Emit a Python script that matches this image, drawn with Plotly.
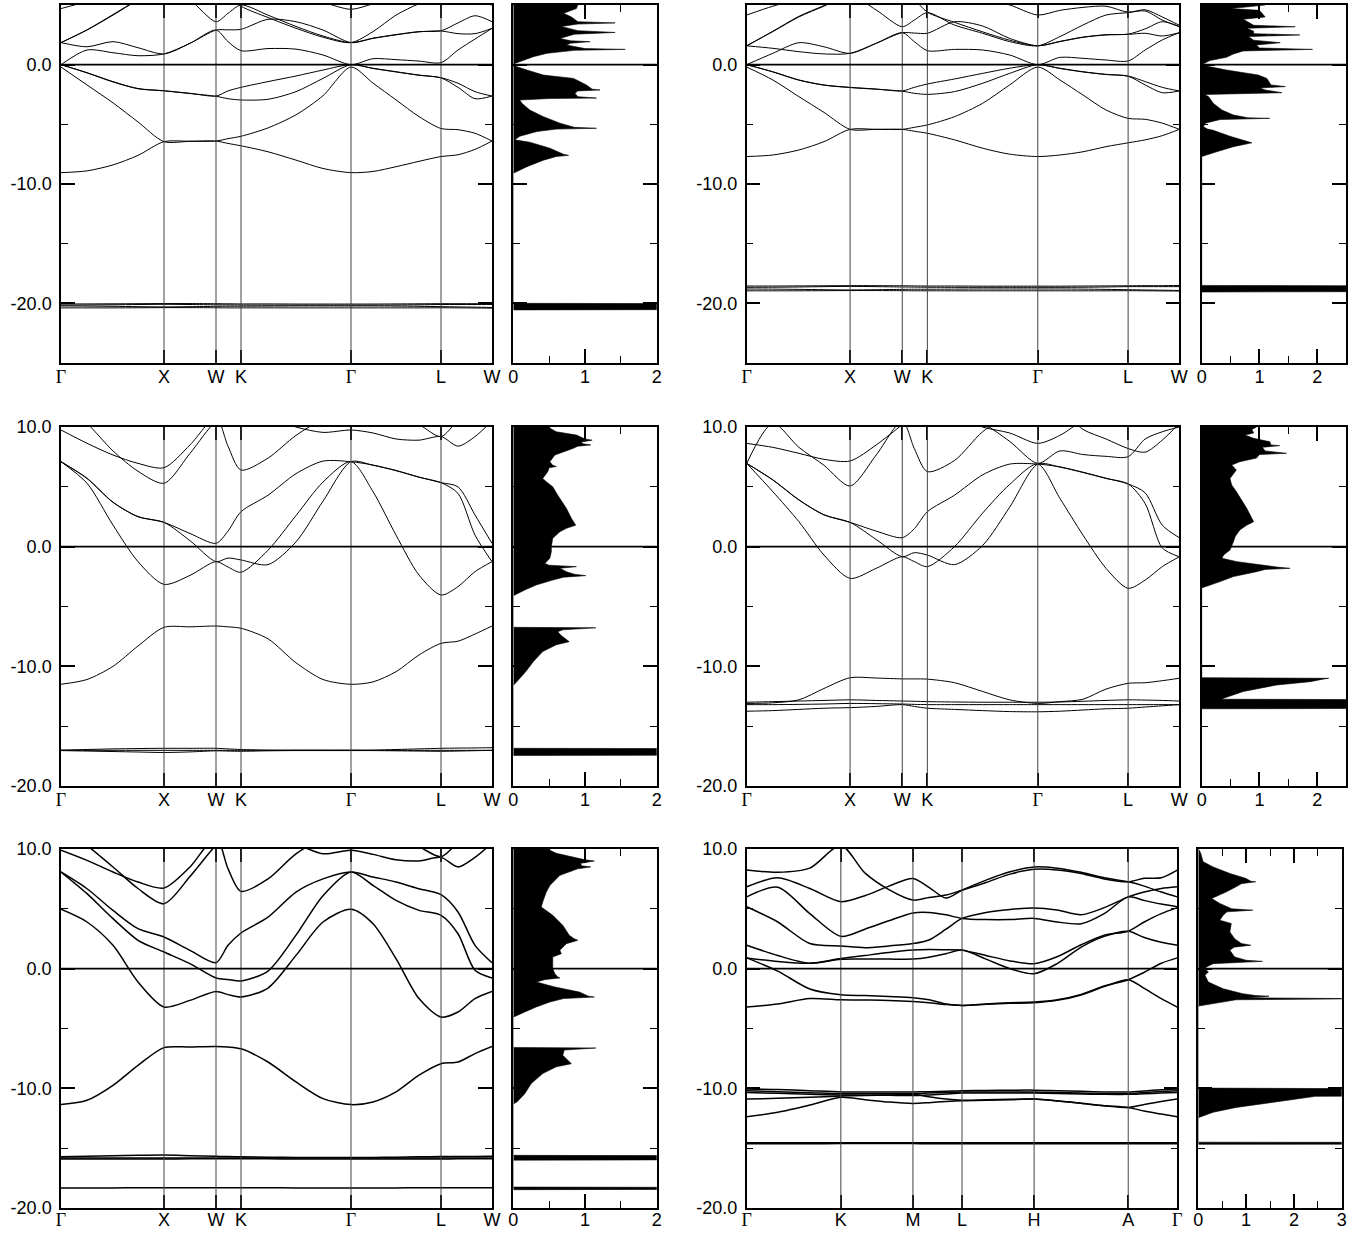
import plotly.graph_objects as go

# ---------------- k-path grids (path coordinate in panel units) ----------------
K_FCC = [0, 26, 52, 77, 103, 129, 155, 167, 180, 207, 235, 262, 290, 312, 335, 358, 380, 397, 414, 431]
FCC_TICKS = [0, 103, 155, 180, 290, 380, 431]
FCC_LABELS = ["Γ", "X", "W", "K", "Γ", "L", "W"]
K_HEX = [0, 31, 63, 94, 118, 142, 166, 182, 199, 215, 239, 263, 287, 310, 334, 357, 381, 397, 414, 430]
HEX_TICKS = [0, 94, 166, 215, 287, 381, 430]
HEX_LABELS = ["Γ", "K", "M", "L", "H", "A", "Γ"]

# ---------------- panel A (top left) bands, eV ----------------
A1 = [-9.05, -8.9, -8.4, -7.6, -6.45, -6.42, -6.4, -6.6, -6.8, -7.3, -8.0, -8.7, -9.05, -8.95, -8.55, -8.1, -7.7, -7.55, -7.1, -6.4]
A2 = [-0.2, -1.7, -3.2, -4.8, -6.45, -6.42, -6.4, -6.2, -6.0, -5.3, -4.2, -2.6, -0.2, -1.55, -2.95, -4.35, -5.35, -5.45, -5.75, -6.4]
A3 = [0, -0.67, -1.42, -2.0, -2.18, -2.4, -2.63, -2.2, -1.9, -1.42, -0.95, -0.45, 0, -0.3, -0.59, -0.87, -1.09, -1.56, -2.26, -2.63]
A4 = [0, -0.69, -1.45, -2.02, -2.2, -2.42, -2.65, -2.85, -2.96, -2.9, -2.26, -1.15, 0, -0.32, -0.61, -0.89, -1.11, -1.9, -2.85, -2.63]
A5 = [0, 1.23, 1.0, 0.75, 0.9, 1.79, 2.9, 1.93, 1.17, 1.35, 1.3, 0.81, 0, 0.5, 0.42, 0.3, 0.17, 1.23, 2.15, 3.04]
A6 = [1.85, 1.5, 1.93, 1.42, 0.9, 1.79, 2.9, 2.92, 2.96, 3.8, 3.6, 2.9, 1.85, 2.2, 2.5, 2.75, 2.82, 2.6, 2.6, 3.04]
A7 = [1.85, 2.9, 4.15, 5.4, 6.3, 5.4, 3.6, 4.3, 5.0, 4.15, 3.2, 2.4, 1.85, 2.22, 2.52, 2.77, 2.84, 3.5, 4.1, 3.6]
A8 = [1.85, 2.92, 4.2, 5.45, 6.5, 7.0, 6.5, 5.8, 4.9, 3.95, 3.05, 2.3, 1.85, 2.77, 4.15, 5.1, 5.6, 5.6, 5.3, 5.0]
A9 = [4.7, 5.3, 6.0, 6.5, 7.0, 7.0, 7.0, 6.5, 6.0, 5.8, 5.5, 5.2, 4.64, 5.1, 5.6, 6.0, 6.5, 6.5, 6.5, 6.5]
A10 = [-20.05, -20.05, -20.04, -20.03, -20.02, -20.02, -20.03, -20.04, -20.05, -20.05, -20.06, -20.06, -20.06, -20.06, -20.05, -20.04, -20.03, -20.03, -20.03, -20.02]
A11 = [-20.15, -20.14, -20.12, -20.1, -20.08, -20.1, -20.12, -20.13, -20.14, -20.15, -20.15, -20.15, -20.15, -20.15, -20.14, -20.12, -20.1, -20.1, -20.1, -20.1]
A12 = [-20.22, -20.23, -20.25, -20.28, -20.3, -20.28, -20.25, -20.24, -20.24, -20.23, -20.22, -20.22, -20.22, -20.22, -20.23, -20.25, -20.28, -20.3, -20.32, -20.35]
A13 = [-20.38, -20.38, -20.38, -20.37, -20.36, -20.36, -20.37, -20.38, -20.38, -20.38, -20.38, -20.38, -20.38, -20.38, -20.38, -20.38, -20.37, -20.38, -20.39, -20.4]

# ---------------- panel B (top right) ----------------
B1 = [-7.7, -7.57, -7.15, -6.45, -5.42, -5.42, -5.42, -5.58, -5.75, -6.3, -7.0, -7.5, -7.7, -7.57, -7.3, -6.87, -6.55, -6.3, -5.95, -5.42]
B2 = [-0.2, -1.28, -2.68, -4.0, -5.42, -5.42, -5.42, -5.25, -5.05, -4.36, -3.24, -1.7, -0.2, -1.28, -2.54, -3.8, -4.5, -4.58, -4.9, -5.42]
B3 = [0, -0.59, -1.28, -1.7, -1.9, -2.04, -2.2, -1.9, -1.62, -1.2, -0.73, -0.3, 0, -0.3, -0.59, -0.81, -0.95, -1.42, -1.9, -2.2]
B4 = [0, -0.61, -1.3, -1.72, -1.92, -2.06, -2.22, -2.4, -2.49, -2.26, -1.56, -0.73, 0, -0.32, -0.61, -0.83, -0.97, -1.7, -2.35, -2.2]
B5 = [0, 0.95, 1.84, 1.5, 0.95, 1.79, 2.68, 1.93, 1.17, 1.28, 1.23, 0.81, 0, 0.61, 0.53, 0.39, 0.31, 1.23, 2.07, 2.68]
B6 = [1.58, 1.37, 1.09, 0.9, 0.95, 1.79, 2.68, 2.65, 2.63, 3.6, 3.24, 2.2, 1.58, 1.93, 2.29, 2.49, 2.54, 2.63, 2.4, 2.68]
B7 = [1.58, 2.77, 4.0, 4.9, 5.8, 4.58, 3.18, 3.74, 4.36, 3.32, 2.63, 1.93, 1.58, 2.35, 3.32, 4.16, 4.36, 4.5, 3.74, 3.18]
B8 = [1.58, 2.8, 4.05, 4.95, 5.9, 6.5, 6.5, 5.5, 4.4, 3.55, 2.75, 2.05, 1.58, 1.95, 2.31, 2.51, 2.56, 3.0, 3.6, 3.2]
B9 = [4.16, 4.9, 5.5, 6.0, 6.5, 6.5, 6.3, 6.0, 5.8, 5.6, 5.5, 5.0, 4.16, 4.55, 4.8, 4.9, 4.4, 4.6, 4.0, 3.3]
B10 = [-18.55, -18.55, -18.54, -18.53, -18.52, -18.52, -18.53, -18.54, -18.55, -18.55, -18.56, -18.56, -18.56, -18.56, -18.55, -18.54, -18.53, -18.52, -18.52, -18.5]
B11 = [-18.66, -18.65, -18.63, -18.6, -18.58, -18.6, -18.63, -18.64, -18.65, -18.66, -18.66, -18.66, -18.66, -18.66, -18.65, -18.63, -18.6, -18.6, -18.6, -18.6]
B12 = [-18.8, -18.81, -18.83, -18.86, -18.88, -18.86, -18.83, -18.82, -18.82, -18.81, -18.8, -18.8, -18.8, -18.8, -18.81, -18.83, -18.86, -18.88, -18.9, -18.92]
B13 = [-18.95, -18.95, -18.95, -18.94, -18.93, -18.93, -18.94, -18.95, -18.95, -18.95, -18.95, -18.95, -18.95, -18.95, -18.95, -18.95, -18.94, -18.95, -18.96, -18.97]

# ---------------- panel C (middle left) ----------------
C1 = [-11.5, -11.1, -10.0, -8.3, -6.74, -6.7, -6.63, -6.7, -6.82, -7.7, -9.7, -11.1, -11.5, -11.3, -10.45, -9.05, -8.08, -7.9, -7.3, -6.63]
C2 = [7.1, 5.3, 1.8, -1.25, -3.15, -2.4, -1.25, -1.7, -2.14, -0.3, 2.6, 5.4, 7.1, 4.6, 0.97, -2.37, -4.04, -3.34, -2.09, -1.25]
C3 = [7.1, 5.7, 3.7, 2.5, 2.03, 0.5, -1.25, -0.95, -1.11, -1.5, 0.4, 3.8, 7.1, 6.8, 6.35, 5.8, 5.35, 4.45, 0.97, -1.25]
C4 = [7.1, 5.72, 3.72, 2.52, 2.03, 1.1, 0.28, 1.3, 2.92, 4.3, 6.1, 7.15, 7.1, 6.82, 6.37, 5.82, 5.35, 5.0, 2.65, 0.28]
C5 = [9.75, 8.64, 7.66, 6.96, 6.6, 8.5, 10.8, 8.4, 6.4, 7.4, 9.3, 10.6, 11, 11, 11, 11, 11, 11, 11, 11]
C6 = [12, 10.3, 8.0, 6.3, 5.3, 7.8, 10.5, 11, 11, 10.8, 10.0, 9.55, 9.75, 9.5, 9.0, 8.9, 9.2, 8.4, 9.2, 10.5]
C7 = [12, 12, 12, 12, 12, 12, 12, 12, 12, 12, 12, 12, 12, 11.5, 11, 10.2, 9.2, 10.5, 11, 11]
C8 = [-17.0, -16.95, -16.9, -16.87, -16.85, -16.85, -16.85, -16.9, -16.95, -17.0, -17.0, -17.0, -17.0, -17.0, -16.95, -16.9, -16.85, -16.83, -16.82, -16.8]
C9 = [-17.02, -17.02, -17.02, -17.02, -17.02, -17.02, -17.02, -17.02, -17.02, -17.02, -17.02, -17.02, -17.02, -17.02, -17.02, -17.02, -17.02, -17.02, -17.02, -17.02]
C10 = [-17.04, -17.08, -17.12, -17.16, -17.2, -17.15, -17.06, -17.08, -17.1, -17.06, -17.04, -17.04, -17.04, -17.04, -17.06, -17.08, -17.1, -17.08, -17.05, -17.02]

# ---------------- panel D (middle right) ----------------
D1 = [-13.1, -13.05, -12.8, -11.85, -10.95, -10.98, -11.05, -11.05, -11.07, -11.37, -12.1, -12.8, -13.1, -12.95, -12.75, -11.9, -11.42, -11.37, -11.2, -11.0]
D2 = [-13.0, -12.95, -12.9, -12.85, -12.8, -12.85, -12.9, -12.92, -12.95, -12.98, -13.0, -13.0, -13.0, -12.98, -12.92, -12.85, -12.8, -12.82, -12.85, -12.9]
D3 = [-13.2, -13.2, -13.18, -13.15, -13.1, -13.12, -13.15, -13.18, -13.2, -13.2, -13.2, -13.2, -13.2, -13.2, -13.2, -13.2, -13.2, -13.2, -13.2, -13.2]
D4 = [-13.75, -13.7, -13.6, -13.5, -13.45, -13.35, -13.2, -13.35, -13.5, -13.6, -13.7, -13.78, -13.8, -13.75, -13.65, -13.55, -13.5, -13.4, -13.3, -13.2]
D5 = [6.96, 4.6, 2.09, -0.7, -2.65, -1.81, -0.84, -1.25, -1.67, 0.0, 2.8, 5.2, 6.9, 4.04, 0.97, -1.81, -3.48, -2.79, -1.67, -0.84]
D6 = [6.96, 5.57, 3.9, 2.65, 2.03, 0.6, -0.84, -0.5, -0.7, -1.5, 0.1, 3.3, 6.9, 6.65, 6.2, 5.7, 5.24, 3.6, -0.1, -0.84]
D7 = [6.96, 5.59, 3.92, 2.67, 2.03, 1.3, 0.75, 1.5, 2.92, 4.3, 6.0, 6.9, 6.9, 6.67, 6.22, 5.72, 5.24, 4.5, 1.8, 0.75]
D8 = [6.96, 10.3, 8.3, 6.8, 5.07, 7.66, 10.5, 8.2, 6.27, 7.2, 9.6, 11, 11, 11, 11, 11, 11, 11, 11, 11]
D9 = [8.63, 8.3, 7.8, 7.3, 7.16, 8.5, 10.2, 11, 11, 11, 10.0, 9.5, 8.63, 9.3, 10.5, 11, 11, 11, 11, 11]
D10 = [11, 11, 11, 11, 11, 11, 11, 11, 11, 11, 10.3, 8.8, 6.96, 8.0, 7.7, 7.55, 7.52, 9.0, 9.6, 10.0]
D11 = [12, 12, 12, 12, 12, 12, 12, 12, 12, 12, 12, 12, 12, 11.5, 9.8, 9.0, 8.2, 7.9, 8.9, 10.3]

# ---------------- panel E (bottom left) ----------------
E1 = [-11.36, -11.0, -9.75, -8.08, -6.6, -6.55, -6.5, -6.55, -6.7, -7.8, -9.47, -10.86, -11.36, -11.14, -10.3, -8.9, -7.94, -7.8, -7.1, -6.5]
E2 = [4.96, 3.9, 1.95, -1.11, -3.2, -2.65, -1.9, -2.17, -2.37, -1.62, 1.11, 3.9, 4.96, 3.76, 0.84, -2.5, -4.04, -3.62, -2.5, -1.9]
E3 = [8.08, 6.27, 4.18, 2.37, 1.39, 0.42, -0.78, -0.9, -1.03, -0.2, 2.8, 6.1, 8.08, 6.96, 5.7, 4.87, 4.46, 2.92, -0.14, -0.78]
E4 = [8.08, 6.68, 4.87, 3.34, 2.65, 1.53, 0.5, 1.95, 2.98, 4.3, 6.4, 7.5, 8.08, 7.66, 7.24, 6.68, 6.18, 4.74, 1.95, 0.5]
E5 = [9.9, 9.05, 8.08, 7.24, 6.74, 8.5, 11, 8.36, 6.46, 7.5, 9.6, 10.8, 11, 11, 11, 11, 11, 11, 11, 11]
E6 = [12, 10.3, 8.5, 6.7, 5.43, 7.7, 10.3, 11, 11, 11, 10.4, 9.6, 9.9, 9.55, 9.1, 9.0, 9.3, 8.5, 9.3, 10.5]
E7 = [12, 12, 12, 12, 12, 12, 12, 12, 12, 12, 12, 12, 12, 11.5, 11, 10.2, 9.35, 10.5, 11, 11]
E8 = [-15.72, -15.68, -15.64, -15.6, -15.58, -15.63, -15.68, -15.7, -15.72, -15.75, -15.77, -15.78, -15.78, -15.77, -15.75, -15.72, -15.7, -15.7, -15.7, -15.68]
E9 = [-15.83, -15.83, -15.82, -15.82, -15.82, -15.82, -15.82, -15.83, -15.83, -15.83, -15.83, -15.83, -15.83, -15.83, -15.83, -15.83, -15.82, -15.82, -15.82, -15.82]
E10 = [-15.9, -15.9, -15.9, -15.9, -15.9, -15.89, -15.88, -15.88, -15.88, -15.89, -15.9, -15.9, -15.9, -15.9, -15.9, -15.9, -15.9, -15.89, -15.88, -15.88]
E11 = [-18.33, -18.33, -18.32, -18.31, -18.3, -18.3, -18.3, -18.3, -18.3, -18.31, -18.32, -18.33, -18.33, -18.33, -18.32, -18.31, -18.3, -18.3, -18.3, -18.3]

# ---------------- panel F (bottom right, hexagonal path) ----------------
F1 = [-3.21, -2.95, -2.5, -2.6, -2.62, -2.65, -2.74, -2.85, -3.0, -3.07, -2.98, -2.9, -2.85, -2.65, -2.2, -1.5, -0.92, -1.65, -2.5, -3.21]
F2 = [0.9, -0.2, -1.7, -2.18, -2.25, -2.33, -2.43, -2.6, -2.95, -3.07, -2.95, -2.85, -2.79, -2.6, -2.15, -1.45, -0.92, -0.3, 0.45, 0.9]
F3 = [1.96, 1.1, 0.45, 0.78, 0.8, 0.8, 0.8, 0.95, 1.25, 1.55, 0.8, 0.0, -0.42, 0.42, 1.8, 2.7, 3.13, 2.6, 2.2, 1.96]
F4 = [0.9, 0.6, 0.45, 0.84, 1.1, 1.35, 1.55, 1.6, 1.58, 1.55, 1.1, 0.65, 0.42, 1.0, 2.0, 2.8, 3.13, 3.9, 4.6, 5.1]
F5 = [5.17, 3.9, 2.1, 1.9, 1.75, 1.9, 2.1, 2.4, 3.3, 4.2, 4.7, 4.95, 5.08, 4.9, 4.5, 5.1, 6.0, 6.4, 6.7, 6.84]
F6 = [6.0, 6.8, 4.6, 2.7, 3.3, 4.0, 4.66, 4.7, 4.5, 4.2, 4.1, 4.1, 4.2, 3.9, 3.75, 4.6, 6.0, 5.7, 5.4, 5.17]
F7 = [6.84, 7.6, 6.7, 5.6, 6.1, 6.9, 7.54, 6.8, 5.9, 6.56, 7.4, 8.1, 8.5, 8.4, 8.05, 7.6, 7.26, 6.9, 6.4, 6.0]
F8 = [8.24, 8.05, 8.4, 10.3, 8.0, 6.6, 5.73, 5.95, 6.15, 6.56, 7.2, 7.9, 8.3, 8.25, 7.95, 7.5, 7.26, 7.55, 7.6, 8.24]
F9 = [-10.05, -10.1, -10.2, -10.3, -10.3, -10.3, -10.3, -10.28, -10.24, -10.2, -10.18, -10.16, -10.15, -10.2, -10.25, -10.3, -10.3, -10.22, -10.12, -10.05]
F10 = [-10.2, -10.28, -10.36, -10.45, -10.45, -10.45, -10.45, -10.4, -10.35, -10.3, -10.3, -10.3, -10.3, -10.35, -10.4, -10.45, -10.45, -10.35, -10.27, -10.2]
F11 = [-10.35, -10.42, -10.5, -10.55, -10.57, -10.58, -10.6, -10.55, -10.47, -10.4, -10.4, -10.4, -10.4, -10.43, -10.47, -10.5, -10.5, -10.45, -10.4, -10.35]
F12 = [-10.9, -10.83, -10.75, -10.65, -10.6, -10.55, -10.5, -10.7, -10.9, -11.0, -10.95, -10.92, -10.9, -11.05, -11.25, -11.45, -11.6, -11.35, -11.1, -10.9]
F13 = [-12.37, -12.0, -11.4, -10.75, -10.95, -11.15, -11.26, -11.2, -11.1, -11.03, -11.0, -10.95, -10.9, -11.05, -11.25, -11.45, -11.6, -11.9, -12.15, -12.37]
F14 = [-14.55, -14.55, -14.55, -14.54, -14.54, -14.54, -14.54, -14.55, -14.55, -14.55, -14.55, -14.55, -14.55, -14.55, -14.55, -14.55, -14.55, -14.55, -14.55, -14.55]
F15 = [-14.63, -14.63, -14.63, -14.62, -14.62, -14.62, -14.62, -14.63, -14.63, -14.63, -14.63, -14.63, -14.63, -14.63, -14.63, -14.63, -14.63, -14.63, -14.63, -14.63]

# ---------------- DOS (energy, states/eV) ----------------
DOS_A_E = [5.0, 4.7, 4.3, 4.0, 3.6, 3.5, 3.4, 3.2, 2.85, 2.7, 2.55, 2.2, 2.0, 1.93, 1.8, 1.65, 1.35, 1.28, 1.2, 0.95, 0.67, 0.39, 0.1, 0.0,
           -0.1, -0.17, -0.45, -0.87, -1.15, -1.7, -2.05, -2.12, -2.2, -2.4, -2.68, -2.8, -2.84, -2.96, -3.24, -3.8, -4.36, -4.9,
           -5.25, -5.33, -5.4, -5.6, -6.0, -6.3, -6.5, -7.0, -7.5, -7.6, -7.7, -8.0, -8.55, -8.97, -9.1, -20.0, -20.05, -20.5, -20.55]
DOS_A_D = [0.9, 0.88, 0.7, 0.81, 0.9, 1.42, 0.9, 0.67, 0.9, 1.42, 0.85, 0.65, 0.8, 1.07, 0.8, 0.74, 1.0, 1.56, 0.85, 0.47, 0.28, 0.14, 0.02, 0,
           0.02, 0.05, 0.19, 0.42, 0.84, 1.02, 1.1, 1.21, 0.9, 0.86, 0.9, 1.16, 0.5, 0.09, 0.12, 0.23, 0.42, 0.65,
           0.85, 1.16, 0.6, 0.33, 0.09, 0.02, 0.23, 0.51, 0.7, 0.77, 0.6, 0.42, 0.19, 0.05, 0, 0, 5, 5, 0]
DOS_B_E = [5.0, 4.7, 4.55, 4.3, 4.0, 3.8, 3.3, 3.18, 3.05, 2.8, 2.6, 2.49, 2.35, 2.05, 1.84, 1.65, 1.4, 1.28, 1.15, 0.9, 0.62, 0.34, 0.1, 0.0,
           -0.1, -0.45, -0.87, -1.15, -1.7, -1.84, -1.95, -2.12, -2.35, -2.42, -2.5, -2.68, -3.24, -3.8, -4.22, -4.45, -4.5, -4.6,
           -4.9, -5.2, -5.4, -5.5, -6.0, -6.55, -6.87, -7.3, -7.65, -7.7, -18.5, -18.55, -19.0, -19.05]
DOS_B_D = [1.1, 0.5, 1.0, 1.04, 1.1, 0.72, 0.9, 1.62, 0.78, 0.9, 0.9, 1.7, 0.81, 0.9, 1.36, 0.95, 1.0, 1.92, 0.72, 0.55, 0.43, 0.14, 0.02, 0,
           0.06, 0.43, 0.98, 1.13, 1.2, 1.45, 1.01, 1.1, 1.39, 0.6, 0.05, 0.12, 0.2, 0.35, 0.55, 0.8, 1.18, 0.32,
           0.06, 0.03, 0.1, 0.2, 0.49, 0.87, 0.55, 0.26, 0.06, 0, 0, 5, 5, 0]
DOS_C_E = [10.0, 9.9, 9.6, 9.33, 9.0, 8.9, 8.75, 8.6, 8.5, 8.4, 8.2, 7.66, 7.1, 6.8, 6.7, 6.6, 6.27, 5.7, 5.43, 5.0, 4.3, 3.2, 2.37, 1.8,
           1.53, 1.25, 0.7, 0.14, 0.0, -0.42, -0.97, -1.4, -1.55, -1.67, -1.8, -2.09, -2.3, -2.42, -2.55, -2.79, -3.2, -3.62,
           -4.04, -4.1, -6.74, -6.78, -6.95, -7.1, -7.38, -7.7, -7.94, -8.2, -8.77, -9.6, -10.4, -11.14, -11.56, -11.6,
           -16.85, -16.9, -17.4, -17.45]
DOS_C_D = [0.5, 0.51, 0.6, 0.88, 1.0, 1.1, 0.95, 0.97, 1.08, 0.9, 0.83, 0.58, 0.51, 0.55, 0.6, 0.5, 0.48, 0.41, 0.46, 0.55, 0.62, 0.74, 0.81, 0.87,
           0.74, 0.65, 0.55, 0.53, 0.53, 0.53, 0.51, 0.44, 0.5, 0.88, 0.65, 0.74, 0.85, 1.01, 0.7, 0.55, 0.32, 0.16,
           0.02, 0, 0, 1.15, 0.69, 0.62, 0.66, 0.72, 0.78, 0.6, 0.41, 0.28, 0.18, 0.07, 0.0, 0,
           0, 5, 5, 0]
DOS_D_E = [10.0, 9.8, 9.5, 9.33, 9.05, 8.77, 8.5, 8.44, 8.3, 8.0, 7.8, 7.7, 7.4, 7.1, 6.82, 6.4, 5.7, 5.15, 4.6, 3.2, 2.09, 1.8, 1.39, 0.84,
           0.42, 0.0, -0.28, -0.7, -0.97, -1.25, -1.6, -1.7, -1.81, -1.9, -2.09, -2.5, -2.92, -3.34, -3.45,
           -10.95, -11.0, -11.07, -11.28, -11.56, -12.1, -12.67, -12.75, -12.8, -13.5, -13.55]
DOS_D_D = [0.95, 0.87, 0.9, 0.75, 0.9, 1.18, 1.2, 1.35, 1.05, 1.1, 1.47, 1.0, 0.95, 0.66, 0.52, 0.6, 0.49, 0.52, 0.6, 0.78, 0.9, 0.78, 0.66, 0.58,
           0.55, 0.52, 0.49, 0.38, 0.35, 0.61, 1.1, 1.3, 1.53, 1.1, 0.95, 0.55, 0.32, 0.06, 0,
           0, 2.2, 2.1, 1.88, 1.3, 0.72, 0.38, 0.35, 5, 5, 0]
DOS_E_E = [10.0, 9.9, 9.64, 9.33, 9.1, 9.0, 8.8, 8.6, 8.5, 8.35, 7.8, 6.96, 6.4, 5.57, 5.15, 4.46, 3.62, 2.79, 2.5, 2.37, 2.2, 2.09, 1.53,
           1.25, 0.97, 0.56, 0.0, -0.42, -0.7, -0.78, -0.9, -1.11, -1.53, -1.95, -2.3, -2.37, -2.5, -2.79, -3.2, -3.62, -3.98, -4.05,
           -6.58, -6.63, -6.8, -7.24, -7.94, -8.2, -8.77, -9.6, -10.45, -11.14, -11.3,
           -15.6, -15.65, -15.95, -16.0, -18.25, -18.3, -18.42, -18.47]
DOS_E_D = [0.5, 0.51, 0.6, 0.83, 1.0, 1.13, 0.94, 0.95, 1.08, 0.9, 0.65, 0.51, 0.46, 0.41, 0.39, 0.55, 0.69, 0.78, 0.85, 0.9, 0.78, 0.74, 0.65,
           0.67, 0.55, 0.55, 0.55, 0.58, 0.62, 0.65, 0.45, 0.32, 0.58, 0.92, 1.05, 1.13, 0.7, 0.51, 0.32, 0.16, 0.01, 0,
           0, 1.15, 0.71, 0.69, 0.81, 0.6, 0.41, 0.25, 0.16, 0.05, 0,
           0, 5, 5, 0, 0, 5, 5, 0]
DOS_F_E = [10.0, 9.9, 9.64, 8.94, 8.5, 7.96, 7.54, 7.3, 7.26, 7.1, 6.84, 6.42, 5.87, 5.45, 5.0, 4.89, 4.75, 4.47, 4.05, 3.77, 3.07, 2.51,
           2.1, 1.96, 1.8, 1.54, 0.98, 0.7, 0.61, 0.5, 0.42, 0.14, 0.0, -0.28, -0.56, -1.12, -1.68, -2.09, -2.25, -2.3, -2.4, -2.45,
           -2.51, -2.6, -2.93, -3.13, -3.2, -9.98, -10.05, -10.6, -10.67, -10.9, -11.17, -11.6, -12.0, -12.4, -12.45,
           -14.5, -14.52, -14.66, -14.68]
DOS_F_D = [0.0, 0.02, 0.05, 0.1, 0.31, 0.66, 1.0, 1.1, 1.2, 0.9, 0.79, 0.59, 0.28, 0.45, 0.7, 1.14, 0.6, 0.52, 0.45, 0.69, 0.66, 0.76,
           0.9, 1.1, 0.75, 0.66, 0.76, 1.0, 1.34, 0.5, 0.31, 0.17, 0.14, 0.21, 0.14, 0.21, 0.52, 0.93, 1.2, 1.48, 1.0, 1.5,
           3.5, 0.79, 0.31, 0.0, 0, 0, 5, 5, 2.45, 2.03, 1.48, 0.79, 0.31, 0.0, 0,
           0, 5, 5, 0]

# ---------------- layout helpers ----------------
FIG_W, FIG_H = 1367, 1233
FONT = "Liberation Sans, Arial, Helvetica, sans-serif"


def xd(a, b):
    return [a / FIG_W, b / FIG_W]


def yd(t, b):
    return [1 - b / FIG_H, 1 - t / FIG_H]


def gam(lbl):
    if lbl == "Γ":
        return "<span style='font-family:Liberation Serif, Times New Roman, serif'>Γ</span>"
    return lbl


PANELS = [
    dict(bands=[A1, A2, A3, A4, A5, A6, A7, A8, A9, A10, A11, A12, A13], k=K_FCC, kt=FCC_TICKS, kl=FCC_LABELS,
         bx=(61, 492), dx=(513.3, 656.7), y=(5, 363), yr=(-25, 5), dos=(DOS_A_E, DOS_A_D), dr=2, lw=1.0, so=-3),
    dict(bands=[B1, B2, B3, B4, B5, B6, B7, B8, B9, B10, B11, B12, B13], k=K_FCC, kt=FCC_TICKS, kl=FCC_LABELS,
         bx=(746.7, 1179.3), dx=(1201.7, 1346), y=(5, 363), yr=(-25, 5), dos=(DOS_B_E, DOS_B_D), dr=2.5, lw=1.0, so=-3),
    dict(bands=[C1, C2, C3, C4, C5, C6, C7, C8, C9, C10], k=K_FCC, kt=FCC_TICKS, kl=FCC_LABELS,
         bx=(61, 492), dx=(513.3, 656.7), y=(427, 786), yr=(-20, 10), dos=(DOS_C_E, DOS_C_D), dr=2, lw=1.0, so=-3),
    dict(bands=[D1, D2, D3, D4, D5, D6, D7, D8, D9, D10, D11], k=K_FCC, kt=FCC_TICKS, kl=FCC_LABELS,
         bx=(746.7, 1179.3), dx=(1201.7, 1346), y=(427, 786), yr=(-20, 10), dos=(DOS_D_E, DOS_D_D), dr=2.5, lw=1.0, so=-3),
    dict(bands=[E1, E2, E3, E4, E5, E6, E7, E8, E9, E10, E11], k=K_FCC, kt=FCC_TICKS, kl=FCC_LABELS,
         bx=(61, 492), dx=(513.3, 656.7), y=(849, 1208), yr=(-20, 10), dos=(DOS_E_E, DOS_E_D), dr=2, lw=1.5, so=-5),
    dict(bands=[F1, F2, F3, F4, F5, F6, F7, F8, F9, F10, F11, F12, F13, F14, F15], k=K_HEX, kt=HEX_TICKS, kl=HEX_LABELS,
         bx=(746.7, 1177.3), dx=(1198.3, 1341.7), y=(849, 1208), yr=(-20, 10), dos=(DOS_F_E, DOS_F_D), dr=3, lw=1.5, so=-5),
]

fig = go.Figure()
layout = dict(width=FIG_W, height=FIG_H, margin=dict(l=0, r=0, t=0, b=0, pad=0, autoexpand=False),
              paper_bgcolor="white", plot_bgcolor="white", showlegend=False,
              font=dict(family=FONT, size=18, color="black"))
shapes = []
tickfont = dict(family=FONT, size=18, color="black")

for i, p in enumerate(PANELS):
    nb = 2 * i + 1
    nd = 2 * i + 2
    xb = "x" if nb == 1 else f"x{nb}"
    yb = "y" if nb == 1 else f"y{nb}"
    xdn, ydn = f"x{nd}", f"y{nd}"
    ylo, yhi = p["yr"]
    yt = [v for v in (-20, -10, 0, 10) if ylo <= v <= yhi]
    ytt = [f"{v:.1f}" for v in yt]

    for b in p["bands"]:
        fig.add_trace(go.Scatter(x=p["k"], y=b, mode="lines", xaxis=xb, yaxis=yb,
                                 line=dict(color="black", width=p["lw"], shape="spline", smoothing=0.8),
                                 hoverinfo="skip"))
    E, D = p["dos"]
    fig.add_trace(go.Scatter(x=D, y=E, mode="lines", xaxis=xdn, yaxis=ydn, fill="tozerox",
                             fillcolor="black", line=dict(color="black", width=0.6), hoverinfo="skip"))

    common = dict(showline=True, linecolor="black", linewidth=1.5, mirror="allticks", showgrid=False,
                  zeroline=False, ticks="inside", tickcolor="black", tickfont=tickfont, automargin=False)
    kmax = p["k"][-1]
    layout["xaxis" if nb == 1 else f"xaxis{nb}"] = dict(
        common, domain=xd(*p["bx"]), anchor=yb, range=[0, kmax], tickmode="array",
        tickvals=p["kt"], ticktext=[gam(l) for l in p["kl"]], ticklen=13, tickwidth=1.5,
        ticklabelstandoff=p["so"])
    layout["yaxis" if nb == 1 else f"yaxis{nb}"] = dict(
        common, domain=yd(*p["y"]), anchor=xb, range=[ylo, yhi], tickmode="array",
        tickvals=yt, ticktext=ytt, ticklen=14, tickwidth=1.5, ticklabelstandoff=4,
        minor=dict(ticks="inside", ticklen=7, tickwidth=1.2, tickcolor="black", dtick=5, tick0=0))
    dr = p["dr"]
    dt = list(range(0, int(dr) + 1))
    layout[f"xaxis{nd}"] = dict(
        common, domain=xd(*p["dx"]), anchor=ydn, range=[0, dr], tickmode="array",
        tickvals=dt, ticktext=[str(v) for v in dt], ticklen=14, tickwidth=1.5, ticklabelstandoff=p["so"],
        minor=dict(ticks="inside", ticklen=7, tickwidth=1.2, tickcolor="black", dtick=0.5, tick0=0))
    layout[f"yaxis{nd}"] = dict(
        common, domain=yd(*p["y"]), anchor=xdn, range=[ylo, yhi], tickmode="array",
        tickvals=yt, showticklabels=False, ticklen=14, tickwidth=1.5,
        minor=dict(ticks="inside", ticklen=7, tickwidth=1.2, tickcolor="black", dtick=5, tick0=0))

    for kv in p["kt"][1:-1]:
        shapes.append(dict(type="line", xref=xb, yref=f"{yb} domain", x0=kv, x1=kv, y0=0, y1=1,
                           line=dict(color="#444444", width=1)))
    shapes.append(dict(type="line", xref=f"{xb} domain", yref=yb, x0=0, x1=1, y0=0, y1=0,
                       line=dict(color="black", width=1.6)))
    shapes.append(dict(type="line", xref=f"{xdn} domain", yref=ydn, x0=0, x1=1, y0=0, y1=0,
                       line=dict(color="black", width=1.6)))

layout["shapes"] = shapes
fig.update_layout(**layout)
fig.write_html("out.html", config={"displayModeBar": False, "responsive": False},
               post_script="document.body.style.margin='0';document.body.style.padding='0';"
                           "document.body.style.overflow='hidden';")
